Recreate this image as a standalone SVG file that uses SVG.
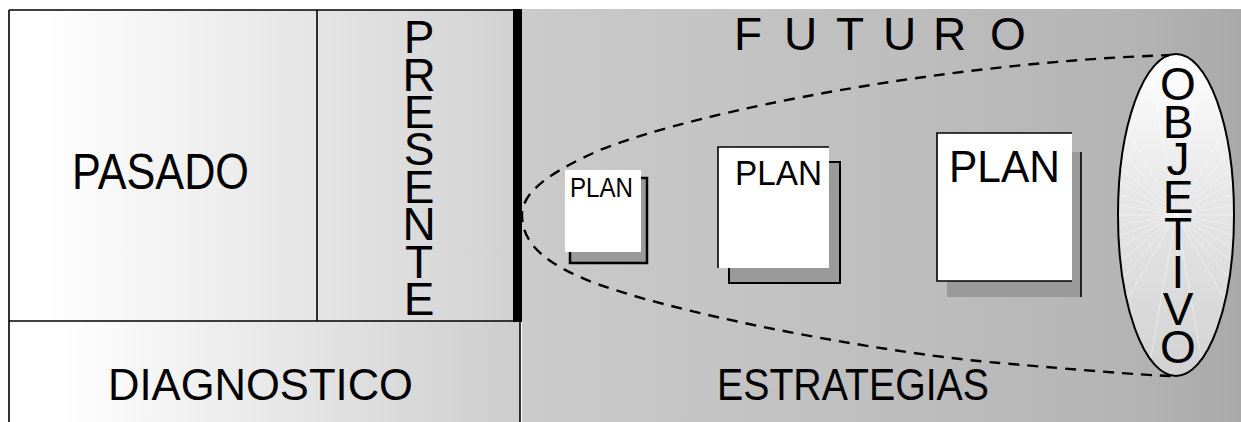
<svg xmlns="http://www.w3.org/2000/svg" width="1241" height="422" viewBox="0 0 1241 422">
  <style>
    .lbl { font-family: "Liberation Sans", Arial, sans-serif; fill: #000; }
    .vert { writing-mode: vertical-rl; text-orientation: upright; }
    .edge { stroke: #000; stroke-width: 1.6; fill: none; }
    .shadow { fill: #9a9a9a; }
    .sheet { fill: #fff; }
  </style>
  <defs>
    <linearGradient id="gTop" gradientUnits="userSpaceOnUse" x1="38" y1="0" x2="513" y2="0">
      <stop offset="0" stop-color="#ffffff"/>
      <stop offset="1" stop-color="#d2d2d2"/>
    </linearGradient>
    <linearGradient id="gBottom" gradientUnits="userSpaceOnUse" x1="60" y1="0" x2="520" y2="0">
      <stop offset="0" stop-color="#ffffff"/>
      <stop offset="1" stop-color="#cdcdcd"/>
    </linearGradient>
    <linearGradient id="gFuture" gradientUnits="userSpaceOnUse" x1="522" y1="0" x2="1241" y2="0">
      <stop offset="0" stop-color="#cbcbcb"/>
      <stop offset="0.55" stop-color="#bdbdbd"/>
      <stop offset="0.85" stop-color="#b4b4b4"/>
      <stop offset="1" stop-color="#a9a9a9"/>
    </linearGradient>
    <linearGradient id="gGoal" x1="0" y1="0" x2="0" y2="1">
      <stop offset="0" stop-color="#ffffff"/>
      <stop offset="0.45" stop-color="#e6e6e6"/>
      <stop offset="1" stop-color="#d2d2d2"/>
    </linearGradient>
    <clipPath id="goalClip">
      <ellipse cx="1176" cy="215" rx="58" ry="161"/>
    </clipPath>
  </defs>

  <rect x="0" y="0" width="1241" height="422" fill="#ffffff"/>

  <!-- left column: past / present / diagnosis -->
  <g id="panel-pasado">
    <rect x="9" y="10" width="504" height="311" fill="url(#gTop)"/>
    <text class="lbl" x="72" y="189" font-size="50" textLength="177" lengthAdjust="spacingAndGlyphs">PASADO</text>
  </g>

  <g id="panel-presente">
    <line class="edge" x1="317" y1="10" x2="317" y2="321"/>
    <text class="lbl vert" x="419" y="11 48.6 86 123 161 198 236 273" font-size="46">PRESENTE</text>
  </g>

  <g id="panel-diagnostico">
    <rect x="9" y="321" width="511" height="101" fill="url(#gBottom)"/>
    <text class="lbl" x="108" y="400" font-size="45" textLength="305" lengthAdjust="spacingAndGlyphs">DIAGNOSTICO</text>
  </g>

  <!-- right column: future -->
  <g id="panel-futuro">
    <rect x="522" y="9" width="719" height="413" fill="url(#gFuture)"/>
    <text class="lbl" x="734 784 836 883 933 990" y="50" font-size="46">FUTURO</text>
    <text class="lbl" x="717" y="400" font-size="45" textLength="272" lengthAdjust="spacingAndGlyphs">ESTRATEGIAS</text>
  </g>

  <!-- frame lines and the present-time bar -->
  <g id="frame">
    <line class="edge" x1="9" y1="10" x2="517" y2="10"/>
    <line class="edge" x1="9" y1="10" x2="9" y2="422"/>
    <line class="edge" x1="9" y1="321" x2="522" y2="321"/>
    <line class="edge" x1="520" y1="321" x2="520" y2="422"/>
    <rect x="513" y="9" width="9" height="313" fill="#000"/>
  </g>

  <!-- widening cone of strategies -->
  <g id="connectors">
    <path d="M1172,55 C950,62 700,110 600,150 C555,170 522,190 522,215 C522,245 548,266 600,285 C700,320 900,355 1000,363 C1080,370 1140,375 1172,376"
          fill="none" stroke="#000" stroke-width="2.4" stroke-dasharray="11 8"/>
  </g>

  <g id="plan-1">
    <rect class="shadow" x="570" y="178" width="77" height="85" stroke="#000" stroke-width="2.5"/>
    <rect class="sheet" x="565" y="170" width="76" height="82"/>
    <text class="lbl" x="570" y="197" font-size="28" textLength="63" lengthAdjust="spacingAndGlyphs">PLAN</text>
  </g>

  <g id="plan-2">
    <rect class="shadow" x="729" y="162" width="111" height="121" stroke="#000" stroke-width="2"/>
    <rect class="sheet" x="718" y="147" width="111" height="121"/>
    <polyline class="edge" points="718,268 718,147 829,147" stroke-width="2"/>
    <text class="lbl" x="735" y="185" font-size="35" textLength="87" lengthAdjust="spacingAndGlyphs">PLAN</text>
  </g>

  <g id="plan-3">
    <rect class="shadow" x="947" y="152" width="134" height="145"/>
    <line class="edge" x1="1081" y1="152" x2="1081" y2="297" stroke-width="2.5"/>
    <rect class="sheet" x="937" y="133" width="135" height="148"/>
    <polyline class="edge" points="1072,133 937,133 937,281 1072,281" stroke-width="2.5"/>
    <text class="lbl" x="949" y="182" font-size="45" textLength="111" lengthAdjust="spacingAndGlyphs">PLAN</text>
  </g>

  <g id="objetivo">
    <ellipse cx="1176" cy="215" rx="58" ry="161" fill="url(#gGoal)"/>
    <g clip-path="url(#goalClip)" stroke="#ffffff" stroke-opacity="0.45" stroke-width="1">
      <path d="M1176,215 L1376,215 M1176,215 L1373,250 M1176,215 L1364,283 M1176,215 L1349,315 M1176,215 L1329,344 M1176,215 L1305,368 M1176,215 L1276,388 M1176,215 L1211,412 M1176,215 L1141,412 M1176,215 L1076,388 M1176,215 L1047,368 M1176,215 L1023,344 M1176,215 L1003,315 M1176,215 L988,283 M1176,215 L979,250 M1176,215 L976,215 M1176,215 L979,180 M1176,215 L988,147 M1176,215 L1003,115 M1176,215 L1023,86 M1176,215 L1047,62 M1176,215 L1076,42 M1176,215 L1141,18 M1176,215 L1211,18 M1176,215 L1276,42 M1176,215 L1305,62 M1176,215 L1329,86 M1176,215 L1349,115 M1176,215 L1364,147 M1176,215 L1373,180"/>
    </g>
    <ellipse cx="1176" cy="215" rx="58" ry="161" fill="none" stroke="#000" stroke-width="2"/>
    <text class="lbl vert" x="1178" y="58 95.6 133 171 208 246 283 321" font-size="46">OBJETIVO</text>
  </g>
</svg>
